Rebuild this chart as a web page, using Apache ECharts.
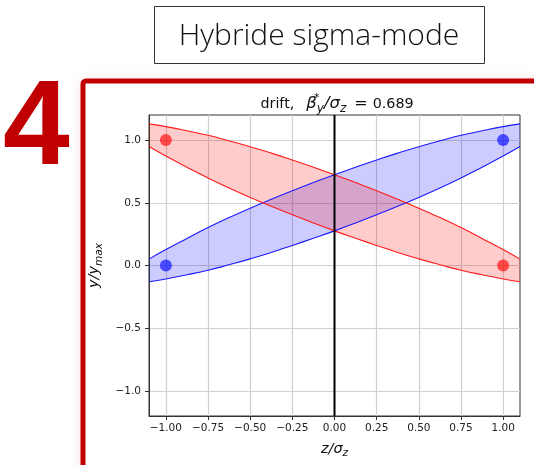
<!DOCTYPE html>
<html><head><meta charset="utf-8">
<script src="https://cdn.jsdelivr.net/npm/echarts@6/dist/echarts.min.js"></script>
<style>html,body{margin:0;padding:0;background:#fff}#c{width:534px;height:465px}</style>
</head><body><div id="c"></div>
<script>
// ---- data ----
const zValues   = [-1.1, -1.0, -0.875, -0.75, -0.625, -0.5, -0.375, -0.25, -0.125, 0,
                   0.125, 0.25, 0.375, 0.5, 0.625, 0.75, 0.875, 1.0, 1.1];
const redUpper  = [1.129, 1.107, 1.074, 1.038, 0.994, 0.947, 0.896, 0.841, 0.783, 0.724,
                   0.661, 0.596, 0.528, 0.457, 0.382, 0.303, 0.216, 0.127, 0.051];
const redLower  = [0.949, 0.873, 0.784, 0.698, 0.618, 0.543, 0.472, 0.405, 0.339, 0.276,
                   0.217, 0.160, 0.104, 0.053, 0.006, -0.038, -0.074, -0.107, -0.129];
const blueUpper = [0.051, 0.127, 0.216, 0.303, 0.382, 0.457, 0.528, 0.596, 0.661, 0.724,
                   0.783, 0.841, 0.896, 0.947, 0.994, 1.038, 1.074, 1.107, 1.129];
const blueLower = [-0.129, -0.107, -0.074, -0.038, 0.006, 0.053, 0.104, 0.160, 0.217, 0.276,
                   0.339, 0.405, 0.472, 0.543, 0.618, 0.698, 0.784, 0.873, 0.949];
const redPoints  = [[-1, 1], [1, 0]];
const bluePoints = [[-1, 0], [1, 1]];
const centerLine = [[0, -1.2], [0, 1.2]];
const xTicks = [-1, -0.75, -0.5, -0.25, 0, 0.25, 0.5, 0.75, 1];
const yTicks = [-1, -0.5, 0, 0.5, 1];
const xRange = [-1.1, 1.1];
const yRange = [-1.2, 1.2];

const FONT = 'DejaVu Sans';
const minus = s => s.replace('-', '\u2212');
// value first, z second (so the value dimension is the stacked one)
const pairs = (xs, ys) => xs.map((x, i) => [ys[i], x]);
const diffs = (xs, up, lo) => xs.map((x, i) => [up[i] - lo[i], x]);

const chart = echarts.init(document.getElementById('c'), null, {renderer: 'canvas'});
const SM = 0.5;
const bandSeries = (name, color, fill, up, lo) => ([
  {name: name + 'L', type: 'line', stack: name, stackStrategy: 'all', smooth: SM, symbol: 'none',
   encode: {x: 1, y: 0},
   data: pairs(zValues, lo), lineStyle: {color: color, width: 1.1}, z: 3},
  {name: name + 'U', type: 'line', stack: name, stackStrategy: 'all', smooth: SM, symbol: 'none',
   encode: {x: 1, y: 0},
   data: diffs(zValues, up, lo), lineStyle: {color: color, width: 1.1},
   areaStyle: {color: fill, opacity: 1}, z: 3}
]);

const C = '#111';
const option = {
  animation: false,
  backgroundColor: '#fff',
  grid: {left: 149, top: 115, width: 371, height: 301, show: true, borderColor: '#333', borderWidth: 1,
         backgroundColor: 'transparent', containLabel: false, outerBoundsMode: 'none'},
  title: {
    text: '{t|drift,}{g1|}{m|β}{sup|*}{sub|y}{m|/σ}{sub|z}{g2|}{e|=}{g3|}{t|0.689}',
    left: 332, top: 88, textAlign: 'center',
    textStyle: {fontFamily: FONT, fontSize: 14, fontWeight: 'normal', color: C, lineHeight: 22,
      rich: {
        t: {fontFamily: FONT, fontSize: 14.3, lineHeight: 22, verticalAlign: 'middle', color: C},
        e: {fontFamily: FONT, fontSize: 16, lineHeight: 22, verticalAlign: 'middle', color: C},
        m: {fontFamily: FONT, fontStyle: 'italic', fontSize: 16.5, lineHeight: 22, verticalAlign: 'middle', color: C},
        sup: {fontFamily: FONT, fontSize: 11, lineHeight: 11, verticalAlign: 'top', width: 0.01, color: C},
        sub: {fontFamily: FONT, fontStyle: 'italic', fontSize: 12, lineHeight: 12, verticalAlign: 'bottom', color: C},
        g1: {width: 12, lineHeight: 22}, g2: {width: 8, lineHeight: 22}, g3: {width: 5, lineHeight: 22}
      }}
  },
  xAxis: {
    type: 'value', min: xRange[0], max: xRange[1],
    name: '{m|z/σ}{sub|z}', nameLocation: 'middle', nameGap: 22,
    nameTextStyle: {fontFamily: FONT, fontSize: 14, color: C, lineHeight: 20,
      rich: {m: {fontFamily: FONT, fontStyle: 'italic', fontSize: 14.5, lineHeight: 20, color: C},
             sub: {fontFamily: FONT, fontStyle: 'italic', fontSize: 10.5, verticalAlign: 'bottom', color: C}}},
    axisLine: {show: true, onZero: false, lineStyle: {color: '#333', width: 1}},
    axisTick: {show: true, length: 4, lineStyle: {color: '#333'}, customValues: xTicks},
    axisLabel: {customValues: xTicks, margin: 7, fontFamily: FONT, fontSize: 10.5, color: '#222',
                formatter: v => minus(v.toFixed(2))},
    splitLine: {show: true, lineStyle: {color: '#d0d0d0', width: 1.2}}
  },
  yAxis: {
    type: 'value', min: yRange[0], max: yRange[1],
    name: '{m|y/y}{sub|max}', nameLocation: 'middle', nameGap: 29,
    nameTextStyle: {fontFamily: FONT, fontSize: 14, color: C, lineHeight: 20,
      rich: {m: {fontFamily: FONT, fontStyle: 'italic', fontSize: 14.5, lineHeight: 20, color: C},
             sub: {fontFamily: FONT, fontStyle: 'italic', fontSize: 10.5, verticalAlign: 'bottom', color: C}}},
    axisLine: {show: true, onZero: false, lineStyle: {color: '#333', width: 1}},
    axisTick: {show: true, length: 4, lineStyle: {color: '#333'}, customValues: yTicks},
    axisLabel: {customValues: yTicks, margin: 8, fontFamily: FONT, fontSize: 10.5, color: '#222',
                formatter: v => minus(v.toFixed(1))},
    splitLine: {show: true, lineStyle: {color: '#d0d0d0', width: 1.2}}
  },
  series: [
    ...bandSeries('blue', '#1a1aff', 'rgba(0,0,255,0.2)', blueUpper, blueLower),
    ...bandSeries('red', '#ff1a1a', 'rgba(255,0,0,0.2)', redUpper, redLower),
    {type: 'scatter', data: redPoints, symbolSize: 12, itemStyle: {color: 'rgba(255,0,0,0.8)'}, z: 5},
    {type: 'scatter', data: bluePoints, symbolSize: 12, itemStyle: {color: 'rgba(0,0,255,0.8)'}, z: 5},
    {type: 'line', data: centerLine, symbol: 'none', lineStyle: {color: '#000', width: 2}, z: 6}
  ],
  graphic: [
    {type: 'rect', z: -10, shape: {x: 83, y: 81, width: 520, height: 460, r: 3},
     style: {fill: '#fff', shadowBlur: 14, shadowColor: 'rgba(200,0,0,0.18)'}},
    {type: 'rect', z: 10, shape: {x: 83, y: 81, width: 520, height: 460, r: 3},
     style: {fill: 'none', stroke: '#C00000', lineWidth: 5}},
    {type: 'rect', z: 10, shape: {x: 154.5, y: 6.5, width: 330, height: 57},
     style: {fill: '#fff', stroke: '#333', lineWidth: 1}},
    {type: 'text', z: 11, style: {text: 'Hybride sigma-mode', x: 319, y: 36, align: 'center', verticalAlign: 'middle',
      fontFamily: 'Open Sans', fontWeight: 300, fontSize: 30, fill: '#111'}},
    {type: 'text', z: 11, style: {text: '4', x: 3, y: 71, align: 'left', verticalAlign: 'top',
      fontFamily: 'Liberation Sans', fontWeight: 'bold', fontSize: 120, fill: '#C00000'}}
  ]
};
chart.setOption(option);
</script></body></html>
